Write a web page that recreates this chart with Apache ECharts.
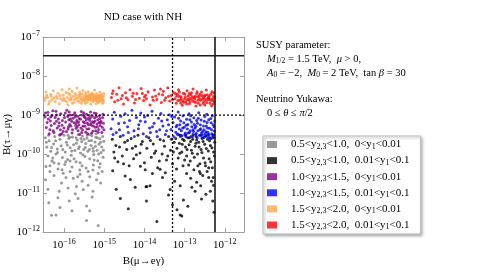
<!DOCTYPE html>
<html><head><meta charset="utf-8">
<script src="https://cdn.jsdelivr.net/npm/echarts@6/dist/echarts.min.js"></script>
<style>html,body{margin:0;padding:0;background:#fff}#c{width:497px;height:272px}</style>
</head><body><div id="c"></div>
<script>
// ---- data (log10 of branching ratios: [log10 B(mu->e gamma), log10 B(tau->mu gamma)]) ----
const y23Lo = ['0.5','0.5','1.0','1.0','1.5','1.5'];
const y23Hi = ['1.0','1.0','1.5','1.5','2.0','2.0'];
const y1Lo  = ['0','0.01','0','0.01','0','0.01'];
const y1Hi  = ['0.01','0.1','0.01','0.1','0.01','0.1'];

const xRange = [3e-17, 3e-12];
const yRange = [1e-12, 1e-7];
const limitTauMuGamma = 3.3e-8;
const limitMuEGamma = 5.7e-13;
const futureTauMuGamma = 1e-9;
const futureMuEGamma = 5e-14;

const greyLog10 = [[-16.46,-9.58],[-16.43,-9.82],[-16.40,-10.05],[-16.37,-9.66],[-16.33,-9.93],[-16.30,-10.18],[-16.26,-9.74],[-16.23,-9.55],[-16.20,-10.00],[-16.17,-9.87],[-16.13,-10.25],[-16.10,-9.62],[-16.07,-9.79],[-16.04,-10.09],[-16.00,-9.52],[-15.97,-9.95],[-15.94,-9.70],[-15.91,-10.14],[-15.88,-9.60],[-15.85,-9.84],[-15.82,-10.03],[-15.79,-9.56],[-15.76,-9.76],[-15.73,-9.91],[-15.70,-10.20],[-15.67,-9.64],[-15.65,-9.50],[-15.62,-9.81],[-15.59,-9.97],[-15.56,-9.68],[-15.54,-9.54],[-15.51,-9.88],[-15.48,-10.06],[-15.46,-9.73],[-15.43,-9.59],[-15.41,-9.93],[-15.38,-9.66],[-15.36,-10.12],[-15.33,-9.78],[-15.31,-9.53],[-15.28,-9.85],[-15.26,-10.01],[-15.23,-9.69],[-15.21,-9.57],[-15.18,-9.90],[-15.16,-10.17],[-15.13,-9.75],[-15.11,-9.61],[-15.08,-9.96],[-15.06,-9.82],[-15.03,-10.08],[-15.01,-9.67],[-16.35,-10.30],[-16.15,-10.38],[-15.98,-10.27],[-15.80,-10.33],[-15.60,-10.22],[-15.45,-10.36],[-15.27,-10.28],[-15.12,-10.34],[-15.50,-9.62],[-15.70,-9.58],[-15.90,-9.52],[-15.35,-9.50],[-15.20,-9.48],[-16.35,-10.45],[-16.15,-11.12],[-16.10,-11.37],[-16.31,-11.57],[-16.20,-11.56],[-15.87,-11.20],[-15.65,-11.14],[-15.44,-11.33],[-15.36,-11.45],[-15.44,-11.70],[-15.15,-11.83],[-16.46,-10.66],[-16.06,-10.74],[-15.90,-10.87],[-15.69,-10.83],[-15.52,-10.91],[-15.28,-10.95],[-15.19,-10.66],[-15.09,-10.74],[-15.77,-10.62],[-15.36,-10.58],[-16.02,-10.49],[-15.61,-10.41],[-15.28,-10.41],[-16.40,-10.90],[-16.25,-10.55],[-15.95,-10.60],[-15.55,-10.70],[-15.15,-10.50],[-15.40,-10.80],[-15.05,-10.45],[-15.85,-10.45],[-16.45,-10.32],[-15.72,-11.02],[-15.60,-10.52],
[-16.44,-9.70],[-16.38,-9.52],[-16.31,-9.83],[-16.28,-10.10],[-16.21,-9.66],[-16.16,-9.96],[-16.09,-9.50],[-16.03,-9.88],[-15.96,-10.20],[-15.92,-9.77],[-15.86,-9.57],[-15.81,-9.92],[-15.75,-10.12],[-15.69,-9.72],[-15.64,-9.86],[-15.58,-9.60],[-15.53,-10.02],[-15.47,-9.83],[-15.42,-9.52],[-15.37,-9.88],[-15.32,-9.65],[-15.27,-9.93],[-15.22,-9.80],[-15.17,-9.58],[-15.14,-10.00],[-15.09,-9.70],[-15.04,-9.55],[-15.02,-9.90],[-15.25,-10.15],[-15.55,-10.30],[-15.85,-10.18],[-16.05,-10.40],[-16.25,-10.22],[-15.40,-10.45],[-15.10,-10.25],[-15.66,-10.58],[-16.12,-10.95],[-15.30,-11.10],[-15.80,-11.45],[-16.38,-11.25]];

const blackLog10 = [[-14.80,-9.62],[-14.76,-9.95],[-14.71,-9.78],[-14.66,-10.20],[-14.60,-9.55],[-14.55,-10.05],[-14.49,-9.70],[-14.44,-9.88],[-14.38,-10.30],[-14.33,-9.60],[-14.27,-10.12],[-14.22,-9.80],[-14.16,-9.52],[-14.11,-9.97],[-14.05,-9.68],[-14.00,-10.22],[-13.94,-9.85],[-13.89,-9.58],[-13.83,-10.08],[-13.78,-9.74],[-13.72,-9.92],[-13.67,-10.35],[-13.61,-9.63],[-13.56,-10.00],[-13.50,-9.80],[-13.45,-10.15],[-13.40,-9.55],[-13.35,-9.90],[-13.30,-10.25],[-13.26,-9.70],[-13.22,-9.60],[-13.19,-9.85],[-13.16,-10.10],[-13.13,-9.72],[-13.10,-9.52],[-13.07,-9.95],[-13.04,-10.30],[-13.01,-9.65],[-12.98,-9.82],[-12.95,-10.05],[-12.92,-9.58],[-12.89,-9.76],[-12.86,-10.18],[-12.83,-9.90],[-12.80,-9.62],[-12.77,-10.40],[-12.74,-9.80],[-12.71,-9.55],[-12.68,-10.00],[-12.65,-9.70],[-12.62,-10.25],[-12.59,-9.88],[-12.56,-9.60],[-12.53,-10.10],[-12.50,-9.75],[-12.47,-9.53],[-12.44,-10.45],[-12.41,-9.92],[-12.38,-9.66],[-12.35,-10.20],[-12.32,-9.84],[-12.29,-10.60],[-12.27,-9.58],[-12.26,-10.05],[-13.15,-9.50],[-12.97,-9.51],[-12.79,-9.50],[-12.60,-9.52],[-12.42,-9.50],[-12.30,-9.51],[-13.05,-9.62],[-12.88,-9.58],[-12.70,-9.64],[-12.52,-9.57],[-12.34,-9.60],[-12.40,-10.35],[-12.55,-10.55],[-12.28,-10.80],[-12.33,-10.70],[-12.48,-10.30],[-12.63,-10.45],[-14.79,-10.43],[-14.60,-11.14],[-14.23,-10.85],[-13.94,-10.83],[-13.69,-11.73],[-13.11,-11.56],[-14.48,-10.56],[-14.10,-10.31],[-13.61,-10.39],[-13.96,-10.84],[-13.86,-10.81],[-13.03,-11.18],[-12.92,-11.34],[-13.19,-11.43],[-13.07,-11.59],[-13.40,-11.05],[-13.36,-10.91],[-12.74,-10.95],[-12.60,-10.81],[-12.47,-11.03],[-12.27,-11.49],[-13.11,-10.81],[-13.55,-10.60],[-13.25,-10.70],[-12.85,-10.62],[-14.35,-10.65],[-14.70,-10.90],[-13.80,-10.50],[-12.95,-10.50],[-12.70,-10.72],[-13.48,-10.48],[-12.30,-11.20],
[-12.25,-9.70],[-12.28,-9.95],[-12.31,-10.35],[-12.36,-9.78],[-12.39,-10.12],[-12.43,-9.62],[-12.46,-9.86],[-12.49,-10.22],[-12.54,-9.68],[-12.57,-9.96],[-12.61,-10.50],[-12.64,-9.82],[-12.67,-10.30],[-12.72,-9.72],[-12.76,-10.08],[-12.81,-9.98],[-12.85,-9.68],[-12.90,-10.28],[-12.94,-9.88],[-13.00,-10.15],[-13.06,-9.75],[-13.12,-9.98],[-13.20,-10.38],[-13.28,-9.95],[-13.33,-9.62],[-13.42,-10.05],[-13.52,-9.66],[-13.63,-10.18],[-13.75,-9.98],[-13.85,-9.65],[-13.98,-10.40],[-14.08,-9.75],[-14.20,-10.02],[-14.30,-9.85],[-14.42,-9.65],[-14.52,-10.25],[-14.62,-9.82],[-14.74,-10.10],[-12.36,-10.95],[-12.58,-11.15],[-12.82,-10.85],[-13.30,-11.30],[-13.95,-11.20],[-14.40,-11.40],[-12.40,-10.60]];

const purpleLog10 = [[-16.47,-9.05],[-16.44,-9.32],[-16.40,-8.93],[-16.37,-9.48],[-16.34,-9.15],[-16.30,-9.01],[-16.27,-9.40],[-16.24,-9.22],[-16.20,-8.90],[-16.17,-9.33],[-16.14,-9.10],[-16.11,-9.51],[-16.08,-8.97],[-16.05,-9.26],[-16.02,-9.42],[-15.99,-9.06],[-15.96,-9.18],[-15.93,-8.88],[-15.90,-9.36],[-15.88,-9.12],[-15.85,-9.00],[-15.83,-9.28],[-15.80,-9.46],[-15.78,-9.08],[-15.75,-9.20],[-15.73,-8.94],[-15.70,-9.34],[-15.68,-9.14],[-15.66,-9.03],[-15.63,-9.25],[-15.61,-9.50],[-15.59,-9.11],[-15.57,-8.91],[-15.54,-9.38],[-15.52,-9.17],[-15.50,-9.05],[-15.48,-9.29],[-15.46,-9.44],[-15.44,-8.98],[-15.42,-9.21],[-15.40,-9.09],[-15.38,-9.35],[-15.36,-9.14],[-15.34,-8.92],[-15.32,-9.26],[-15.30,-9.03],[-15.28,-9.41],[-15.26,-9.19],[-15.24,-9.07],[-15.22,-9.31],[-15.20,-8.96],[-15.18,-9.23],[-15.16,-9.12],[-15.14,-9.37],[-15.12,-9.02],[-15.10,-9.27],[-15.08,-9.16],[-15.06,-9.45],[-15.04,-9.06],[-15.02,-9.21],[-16.42,-9.19],[-16.32,-9.27],[-16.22,-9.06],[-16.12,-9.20],[-16.00,-9.33],[-15.91,-9.04],[-15.81,-9.16],[-15.71,-9.26],[-15.62,-9.09],[-15.53,-9.28],[-15.45,-9.13],[-15.37,-9.01],[-15.29,-9.17],[-15.21,-9.40],[-15.13,-9.19],[-15.05,-9.31],[-15.94,-9.42],[-15.76,-8.99],[-15.58,-9.33],[-15.41,-9.48],[-15.25,-8.95],[-15.11,-9.09],[-16.28,-8.89],[-16.09,-9.38],[-15.86,-9.24],[-15.65,-9.40],[-15.47,-9.06],[-15.33,-9.22],[-15.17,-9.30],[-15.03,-8.98],[-15.55,-9.00],[-15.69,-9.20],[-15.84,-9.10],
[-16.46,-8.95],[-16.39,-9.10],[-16.35,-9.38],[-16.25,-9.45],[-16.18,-9.00],[-16.13,-9.28],[-16.04,-9.14],[-15.97,-8.95],[-15.89,-9.30],[-15.79,-9.38],[-15.72,-9.05],[-15.64,-9.18],[-15.56,-9.45],[-15.49,-9.20],[-15.43,-9.36],[-15.35,-9.08],[-15.27,-9.28],[-15.19,-9.04],[-15.15,-9.44],[-15.09,-9.20],[-15.01,-9.38],[-15.23,-9.15],[-15.39,-9.25],[-15.51,-8.94],[-15.67,-9.30],[-15.87,-8.92],[-16.06,-9.48],[-16.19,-9.16],[-16.33,-9.05],[-15.31,-9.46]];

const blueLog10 = [[-14.83,-9.35],[-14.79,-9.10],[-14.75,-8.93],[-14.70,-9.45],[-14.64,-9.22],[-14.59,-9.03],[-14.53,-9.52],[-14.48,-8.97],[-14.42,-9.30],[-14.37,-9.14],[-14.31,-8.88],[-14.26,-9.40],[-14.20,-9.06],[-14.14,-9.25],[-14.09,-8.95],[-14.03,-9.48],[-13.98,-9.17],[-13.92,-9.01],[-13.87,-9.33],[-13.81,-8.90],[-13.76,-9.21],[-13.70,-9.42],[-13.65,-9.08],[-13.59,-8.96],[-13.54,-9.28],[-13.48,-9.50],[-13.43,-9.12],[-13.38,-8.99],[-13.34,-9.37],[-13.29,-9.19],[-13.25,-9.05],[-13.22,-9.44],[-13.19,-9.26],[-13.16,-8.92],[-13.13,-9.36],[-13.10,-9.15],[-13.07,-9.53],[-13.04,-9.02],[-13.01,-9.31],[-12.98,-9.46],[-12.95,-9.11],[-12.92,-9.24],[-12.89,-8.97],[-12.86,-9.40],[-12.83,-9.18],[-12.80,-9.55],[-12.77,-9.07],[-12.74,-9.33],[-12.71,-9.47],[-12.68,-9.21],[-12.65,-8.94],[-12.62,-9.38],[-12.59,-9.13],[-12.56,-9.51],[-12.53,-9.28],[-12.50,-9.04],[-12.47,-9.43],[-12.44,-9.19],[-12.41,-9.57],[-12.38,-9.34],[-12.35,-9.09],[-12.32,-9.48],[-12.29,-9.25],[-12.26,-9.41],[-13.18,-9.49],[-13.08,-9.40],[-12.97,-9.55],[-12.88,-9.45],[-12.78,-9.42],[-12.69,-9.58],[-12.58,-9.46],[-12.48,-9.55],[-12.39,-9.50],[-12.30,-9.56],[-12.27,-9.30],[-12.34,-9.20],[-12.43,-9.33],[-12.52,-9.38],[-12.61,-9.25],[-12.72,-9.29],[-12.82,-9.30],[-12.93,-9.36],[-13.02,-9.20],[-13.12,-9.25],[-12.66,-9.08],[-12.45,-8.98],[-12.85,-9.02],[-14.50,-9.20],[-14.15,-9.35],[-13.85,-9.45],[-13.62,-9.38],[-13.40,-9.25],[-14.00,-9.05],
[-12.25,-9.15],[-12.28,-9.52],[-12.31,-9.02],[-12.33,-9.38],[-12.37,-9.58],[-12.40,-9.12],[-12.42,-9.44],[-12.46,-9.28],[-12.49,-9.48],[-12.51,-9.16],[-12.55,-9.42],[-12.57,-9.58],[-12.60,-9.35],[-12.63,-9.52],[-12.67,-9.40],[-12.70,-9.14],[-12.73,-9.50],[-12.76,-9.24],[-12.79,-9.38],[-12.84,-9.55],[-12.87,-9.12],[-12.91,-9.46],[-12.96,-9.26],[-13.00,-9.50],[-13.05,-9.33],[-13.11,-9.55],[-13.15,-9.08],[-13.21,-9.30],[-13.27,-9.55],[-13.32,-9.04],[-13.45,-9.40],[-13.57,-9.15],[-13.68,-9.55],[-13.80,-9.30],[-13.95,-9.55],[-14.10,-9.15],[-14.25,-9.55],[-14.40,-9.45],[-14.62,-9.38],[-14.78,-9.50]];

const orangeLog10 = [[-16.48,-8.62],[-16.45,-8.41],[-16.41,-8.55],[-16.38,-8.72],[-16.33,-8.47],[-16.30,-8.60],[-16.27,-8.38],[-16.22,-8.66],[-16.19,-8.52],[-16.15,-8.44],[-16.12,-8.71],[-16.08,-8.58],[-16.05,-8.35],[-16.02,-8.49],[-15.98,-8.63],[-15.95,-8.42],[-15.92,-8.55],[-15.90,-8.74],[-15.87,-8.33],[-15.85,-8.48],[-15.82,-8.61],[-15.80,-8.39],[-15.77,-8.52],[-15.75,-8.68],[-15.72,-8.45],[-15.70,-8.57],[-15.68,-8.31],[-15.66,-8.64],[-15.63,-8.50],[-15.61,-8.41],[-15.59,-8.59],[-15.57,-8.70],[-15.55,-8.46],[-15.53,-8.37],[-15.51,-8.55],[-15.49,-8.62],[-15.48,-8.49],[-15.46,-8.43],[-15.44,-8.58],[-15.43,-8.67],[-15.41,-8.52],[-15.40,-8.40],[-15.38,-8.61],[-15.37,-8.47],[-15.35,-8.55],[-15.34,-8.72],[-15.32,-8.50],[-15.31,-8.44],[-15.29,-8.59],[-15.28,-8.65],[-15.27,-8.53],[-15.25,-8.48],[-15.24,-8.36],[-15.23,-8.57],[-15.21,-8.62],[-15.20,-8.51],[-15.19,-8.45],[-15.17,-8.60],[-15.16,-8.55],[-15.15,-8.68],[-15.13,-8.49],[-15.12,-8.57],[-15.11,-8.41],[-15.09,-8.63],[-15.08,-8.53],[-15.07,-8.47],[-15.05,-8.59],[-15.04,-8.70],[-15.02,-8.52],[-15.01,-8.45],[-15.45,-8.53],[-15.39,-8.57],[-15.33,-8.62],[-15.26,-8.58],[-15.22,-8.54],[-15.18,-8.64],[-15.14,-8.51],[-15.10,-8.56],[-15.06,-8.62],[-15.30,-8.52],[-15.36,-8.49],[-15.42,-8.61],[-15.50,-8.58],[-15.58,-8.53],[-15.65,-8.56],[-15.74,-8.60],[-15.83,-8.55],[-15.93,-8.66],[-16.00,-8.57],[-16.10,-8.50],[-16.25,-8.56],[-16.36,-8.65],[-16.43,-8.49],[-15.88,-8.45],[-15.79,-8.70],[-15.62,-8.66],[-15.54,-8.64],[-15.47,-8.69],[-15.20,-8.71],[-15.12,-8.66],[-15.03,-8.61],
[-15.44,-8.50],[-15.38,-8.54],[-15.34,-8.58],[-15.29,-8.48],[-15.25,-8.63],[-15.21,-8.56],[-15.17,-8.52],[-15.13,-8.60],[-15.09,-8.50],[-15.05,-8.55],[-15.02,-8.66],[-15.48,-8.61],[-15.56,-8.60],[-15.70,-8.50],[-15.86,-8.60],[-16.03,-8.62],[-16.17,-8.57],[-16.32,-8.52],[-16.46,-8.56],[-15.60,-8.47]];

const redLog10 = [[-14.82,-8.55],[-14.78,-8.38],[-14.74,-8.66],[-14.69,-8.47],[-14.63,-8.30],[-14.58,-8.58],[-14.52,-8.72],[-14.47,-8.43],[-14.41,-8.61],[-14.36,-8.35],[-14.30,-8.52],[-14.25,-8.69],[-14.19,-8.45],[-14.13,-8.57],[-14.08,-8.32],[-14.02,-8.63],[-13.97,-8.49],[-13.91,-8.40],[-13.86,-8.74],[-13.80,-8.54],[-13.75,-8.36],[-13.69,-8.60],[-13.64,-8.46],[-13.58,-8.68],[-13.53,-8.39],[-13.47,-8.56],[-13.42,-8.30],[-13.37,-8.64],[-13.33,-8.50],[-13.28,-8.42],[-13.24,-8.58],[-13.21,-8.70],[-13.18,-8.47],[-13.15,-8.35],[-13.12,-8.62],[-13.09,-8.53],[-13.06,-8.75],[-13.03,-8.44],[-13.00,-8.59],[-12.97,-8.66],[-12.94,-8.38],[-12.91,-8.51],[-12.88,-8.71],[-12.85,-8.48],[-12.82,-8.60],[-12.79,-8.33],[-12.76,-8.55],[-12.73,-8.67],[-12.70,-8.45],[-12.67,-8.62],[-12.64,-8.52],[-12.61,-8.74],[-12.58,-8.41],[-12.55,-8.58],[-12.52,-8.65],[-12.49,-8.49],[-12.46,-8.36],[-12.43,-8.61],[-12.40,-8.55],[-12.37,-8.70],[-12.34,-8.46],[-12.31,-8.59],[-12.28,-8.52],[-12.26,-8.66],[-13.20,-8.52],[-13.13,-8.41],[-13.05,-8.64],[-12.98,-8.54],[-12.90,-8.61],[-12.83,-8.43],[-12.75,-8.59],[-12.68,-8.53],[-12.60,-8.62],[-12.53,-8.56],[-12.45,-8.68],[-12.38,-8.50],[-12.30,-8.63],[-12.27,-8.43],[-12.95,-8.72],[-12.72,-8.77],[-12.50,-8.74],[-12.33,-8.76],[-13.10,-8.69],[-12.87,-8.57],[-12.62,-8.47],[-12.42,-8.56],[-14.55,-8.50],[-14.22,-8.60],[-13.95,-8.58],[-13.72,-8.51],[-13.50,-8.62],[-14.05,-8.45],[-13.60,-8.33],
[-12.25,-8.55],[-12.29,-8.72],[-12.32,-8.40],[-12.36,-8.62],[-12.39,-8.58],[-12.44,-8.48],[-12.48,-8.60],[-12.51,-8.52],[-12.54,-8.70],[-12.57,-8.50],[-12.63,-8.58],[-12.66,-8.70],[-12.69,-8.40],[-12.74,-8.52],[-12.78,-8.65],[-12.81,-8.53],[-12.86,-8.66],[-12.89,-8.45],[-12.93,-8.60],[-12.99,-8.46],[-13.02,-8.67],[-13.08,-8.58],[-13.14,-8.52],[-13.17,-8.63],[-13.23,-8.45],[-13.30,-8.60],[-13.40,-8.52],[-13.55,-8.48],[-13.78,-8.62],[-14.00,-8.54],[-14.28,-8.44],[-14.45,-8.56],[-14.66,-8.62],[-14.80,-8.45]];

const seriesLog10 = [greyLog10, blackLog10, purpleLog10, blueLog10, orangeLog10, redLog10];

// ---- styles ----
const FONT = 'Liberation Serif';
const colors = ['#808080','#000000','#800080','#0000ff','#ffa54f','#ff0000'];

const names = y23Lo.map((v,i)=> v+'<y2,3<'+y23Hi[i]+', '+y1Lo[i]+'<y1<'+y1Hi[i]);
const richLegend = {};
names.forEach((n,i)=>{
  richLegend[n] = '{a|'+y23Lo[i]+'<y}{s|2,3}{n|<'+y23Hi[i]+',  '+y1Lo[i]+'<y}{s|1}{n|<'+y1Hi[i]+'}';
});

function toPts(arr){ return arr.map(p=>[Math.pow(10,p[0]), Math.pow(10,p[1])]); }

function powLabel(v){
  const e = Math.log10(v);
  const r = Math.round(e);
  if (Math.abs(e-r) > 0.02) return '';
  return '{b|10}{p|\u2212'+Math.abs(r)+'}';
}
const axisRich = {
  b:{fontFamily:FONT,fontSize:11,color:'#000'},
  p:{fontFamily:FONT,fontSize:8,color:'#000',padding:[0,0,7,0]}
};
const frameColor = '#a0a0a0';

function mkAxis(kind, pos, range, showLabel){
  return {
    type:'log', logBase:10, min:range[0], max:range[1], position:pos,
    axisLine:{show:true,lineStyle:{color:frameColor,width:1}},
    axisTick:{show:true,inside:true,length:4,lineStyle:{color:frameColor}},
    splitLine:{show:false},
    axisLabel:{show:showLabel, formatter:powLabel, rich:axisRich, margin: kind==='x'?6:3}
  };
}

const xA = mkAxis('x','bottom',xRange,true);
xA.name = 'B(\u03bc\u2192e\u03b3)'; xA.nameLocation='middle'; xA.nameGap=22;
xA.nameTextStyle={fontFamily:FONT,fontSize:11,color:'#000'};
const xTop = mkAxis('x','top',xRange,false);
const yA = mkAxis('y','left',yRange,true);
yA.name = 'B(\u03c4\u2192\u03bc\u03b3)'; yA.nameLocation='middle'; yA.nameGap=30;
yA.nameTextStyle={fontFamily:FONT,fontSize:11,color:'#000'};
const yRight = mkAxis('y','right',yRange,false);

const series = seriesLog10.map((d,i)=>({
  name:names[i], type:'scatter', data:toPts(d), symbol:'circle', symbolSize:3,
  itemStyle:{color:colors[i]}, silent:true
}));
function limitLine(data, dashed){
  return {type:'line', data:data, symbol:'none', silent:true, z:5,
    lineStyle: dashed ? {type:[2,2], width:1.3, color:'#000'} : {type:'solid', width:1.6, color:'#1a1a1a'}};
}
series.push(limitLine([[xRange[0],limitTauMuGamma],[xRange[1],limitTauMuGamma]], false));
series.push(limitLine([[limitMuEGamma,yRange[0]],[limitMuEGamma,yRange[1]]], false));
series.push(limitLine([[xRange[0],futureTauMuGamma],[xRange[1],futureTauMuGamma]], true));
series.push(limitLine([[futureMuEGamma,yRange[0]],[futureMuEGamma,yRange[1]]], true));

const txt = {fontFamily:FONT,fontSize:10.5,color:'#000'};
const it = {fontFamily:FONT,fontSize:10.5,fontStyle:'italic',color:'#000'};
const sb = {fontFamily:FONT,fontSize:7.5,color:'#000',padding:[4,0,0,0]};
const R = {n:txt,i:it,s:sb};
const F = '10.5px '+FONT;

const chart = echarts.init(document.getElementById('c'),null,{renderer:'canvas'});
chart.setOption({
  animation:false,
  backgroundColor:'#fff',
  grid:{left:43,top:37,right:253,bottom:35,show:false},
  xAxis:[xA,xTop],
  yAxis:[yA,yRight],
  legend:{
    orient:'vertical', left:263, top:136, icon:'rect', itemWidth:10, itemHeight:7, itemGap:4.6,
    padding:[3,11,3,4], backgroundColor:'#fff', borderColor:'#bbb', borderWidth:1,
    shadowBlur:3, shadowColor:'rgba(0,0,0,0.35)', shadowOffsetX:1.5, shadowOffsetY:1.5,
    data:names, selectedMode:false,
    formatter:n=>richLegend[n],
    textStyle:{fontFamily:FONT,fontSize:11,color:'#000',rich:{
      a:{fontFamily:FONT,fontSize:11,color:'#000',padding:[0,0,0,9]},
      n:{fontFamily:FONT,fontSize:11,color:'#000'},
      s:{fontFamily:FONT,fontSize:8,color:'#000',padding:[4,0,0,0]}
    }}
  },
  graphic:[
    {type:'text',x:143,y:17,style:{text:'ND case with NH',fill:'#000',font:'11px '+FONT,textAlign:'center',textVerticalAlign:'middle'}},
    {type:'text',x:256,y:45,style:{text:'SUSY parameter:',fill:'#000',font:F,textVerticalAlign:'middle'}},
    {type:'text',x:267,y:59,style:{text:'{i|M}{s|1/2}{n| = 1.5 TeV,  }{i|\u03bc}{n| > 0,}',fill:'#000',font:F,textVerticalAlign:'middle',rich:R}},
    {type:'text',x:267,y:73,style:{text:'{i|A}{s|0}{n| = \u22122,  }{i|M}{s|0}{n| = 2 TeV,  tan }{i|\u03b2}{n| = 30}',fill:'#000',font:F,textVerticalAlign:'middle',rich:R}},
    {type:'text',x:256,y:99,style:{text:'Neutrino Yukawa:',fill:'#000',font:F,textVerticalAlign:'middle'}},
    {type:'text',x:267,y:113,style:{text:'{n|0 \u2264 }{i|\u03b8}{n| \u2264 }{i|\u03c0}{n|/2}',fill:'#000',font:F,textVerticalAlign:'middle',rich:R}}
  ],
  series:series
});
</script>
</body></html>
